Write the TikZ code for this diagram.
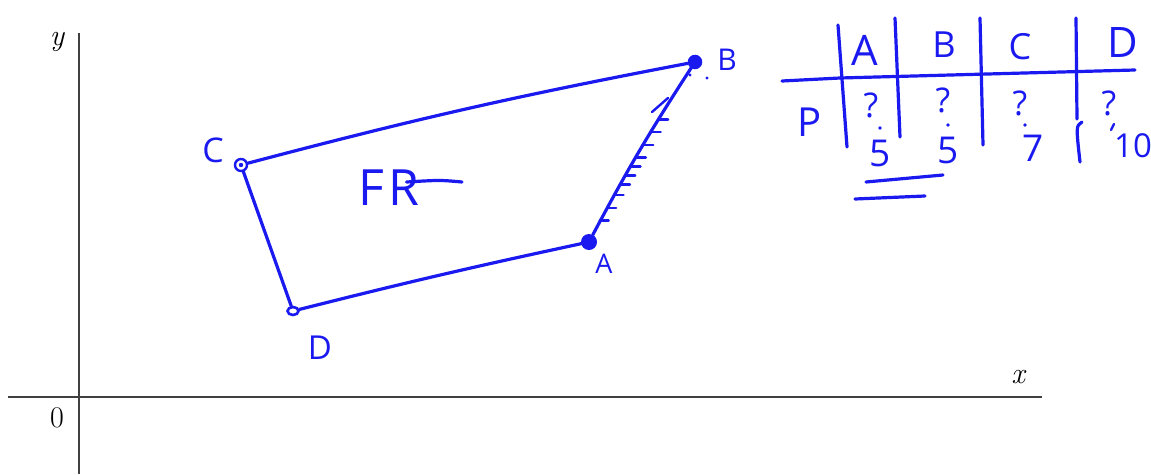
\documentclass[tikz,border=0pt]{standalone}
\usepackage{fontspec}
\newfontfamily\hand{Open Sans}
\usetikzlibrary{calc,shapes.geometric}
\definecolor{inkblue}{RGB}{25,25,240}
\begin{document}
\begin{tikzpicture}[x=1pt,y=-1pt,
  ink/.style={draw=inkblue,line width=3.2pt,line cap=round,line join=round},
  thinink/.style={draw=inkblue,line width=2.4pt,line cap=round},
  axis/.style={draw=black!75,line width=1.3pt},
  hw/.style={text=inkblue,font=\hand\fontsize{34}{36}\selectfont,inner sep=0pt},
  tab/.style={text=inkblue,font=\hand\fontsize{36}{38}\selectfont,inner sep=0pt},
  qm/.style={text=inkblue,font=\hand\fontsize{34}{36}\selectfont,inner sep=0pt},
  num/.style={text=inkblue,font=\hand\fontsize{37}{39}\selectfont,inner sep=0pt},
  mathlab/.style={font=\fontsize{30}{33}\selectfont,inner sep=0pt}]
\useasboundingbox (0,0) rectangle (1151,474);
% axes
\coordinate (yt) at (79,33);
\coordinate (yb) at (79,474);
\coordinate (xl) at (8,397);
\coordinate (xr) at (1042,397);
\draw[axis] (yt) -- (yb);
\draw[axis] (xl) -- (xr);
\node[mathlab] (ylab) at (57,42) {\itshape y};
\node[mathlab] (xlab) at (1018,377) {\itshape x};
\node[mathlab] (zero) at (57,418) {0};
% vertices
\node[circle,fill=inkblue,minimum size=16pt,inner sep=0pt] (A) at (589,242) {};
\node[circle,fill=inkblue,draw=inkblue,line width=1.5pt,minimum size=13pt,inner sep=0pt] (B) at (695,62) {};
\node[circle,draw=inkblue,line width=2.4pt,minimum size=12pt,inner sep=0pt] (C) at (241,165) {};
\fill[inkblue] (C) circle (2.2);
\node[ellipse,draw=inkblue,line width=2.6pt,minimum width=11pt,minimum height=8pt,inner sep=0pt] (D) at (293,311) {};
% edges
\draw[ink] (C) to[bend left=2] (B);
\draw[ink] (D) to[bend left=1] (A);
\draw[ink] (C) -- (D);
\draw[ink] (A) to[bend left=2.5] (B);
\foreach \t in {0.12,0.19,0.26,0.32,0.37,0.42,0.47,0.54,0.61,0.68}
  \draw[thinink] ($(A)!\t!(B)+(-2,0)$) -- ++(9,0);
\coordinate (s1) at (652,112);
\coordinate (s2) at (668,98);
\draw[thinink] (s1) -- (s2);
\fill[inkblue] (690,75) circle (1.7);
\fill[inkblue] (707,78) circle (1.7);
% vertex labels
\node[hw] (Clab) at (213,150) {C};
\node[hw,font=\hand\fontsize{30}{32}\selectfont] (Blab) at (727,60) {B};
\node[hw,font=\hand\fontsize{27}{29}\selectfont] (Alab) at (604,264) {A};
\node[hw,font=\hand\fontsize{33}{35}\selectfont] (Dlab) at (320,348) {D};
\node[hw,font=\hand\fontsize{50}{52}\selectfont,anchor=west] (FR) at (358,188) {F\kern4pt R};
\coordinate (tail0) at ($(FR.center)+(18,-6)$);
\coordinate (tail) at (462,182);
\draw[ink] (tail0) .. controls (440,180) .. (tail);
% table
\coordinate (h1) at (782,81);
\coordinate (h2) at (840,78);
\coordinate (h3) at (1135,70);
\draw[ink] (h1) -- (h2) -- (h3);
\coordinate (v1t) at (838,25);  \coordinate (v1b) at (847,147);
\coordinate (v2t) at (895,18);  \coordinate (v2b) at (900,137);
\coordinate (v3t) at (980,18);  \coordinate (v3b) at (983,145);
\coordinate (v4t) at (1076,18); \coordinate (v4m) at (1077,119);
\coordinate (v4k) at (1082,122); \coordinate (v4b) at (1080,162);
\draw[ink] (v1t) -- (v1b);
\draw[ink] (v2t) -- (v2b);
\draw[ink] (v3t) -- (v3b);
\draw[ink] (v4t) -- (v4m);
\draw[ink] (v4k) .. controls (1076,126) .. (v4b);
\node[tab,font=\hand\fontsize{42}{44}\selectfont] (tA) at (865,50) {A};
\node[tab] (tB) at (944,45) {B};
\node[tab] (tC) at (1020,47) {C};
\node[tab,font=\hand\fontsize{42}{44}\selectfont] (tD) at (1123,43) {D};
\node[tab,font=\hand\fontsize{40}{42}\selectfont] (tP) at (810,122) {P};
\node[qm] (qA) at (871,105) {?};
\node[qm] (qB) at (943,100) {?};
\node[qm] (qC) at (1020,103) {?};
\node[qm] (qD) at (1109,103) {?};
\fill[inkblue] (880,128) circle (1.8);
\fill[inkblue] (948,125) circle (1.8);
\fill[inkblue] (1025,125) circle (1.8);
\draw[thinink] (1114,124) -- (1111,130);
\node[num] (vA) at (880,153) {5};
\node[num] (vB) at (948,150) {5};
\node[num] (vC) at (1033,148) {7};
\node[num,font=\hand\fontsize{33}{35}\selectfont] (vD) at (1133,146) {10};
\coordinate (u1a) at (866,182); \coordinate (u1b) at (943,175);
\coordinate (u2a) at (855,199); \coordinate (u2b) at (925,196);
\draw[ink] (u1a) -- (u1b);
\draw[ink] (u2a) -- (u2b);
\end{tikzpicture}
\end{document}
